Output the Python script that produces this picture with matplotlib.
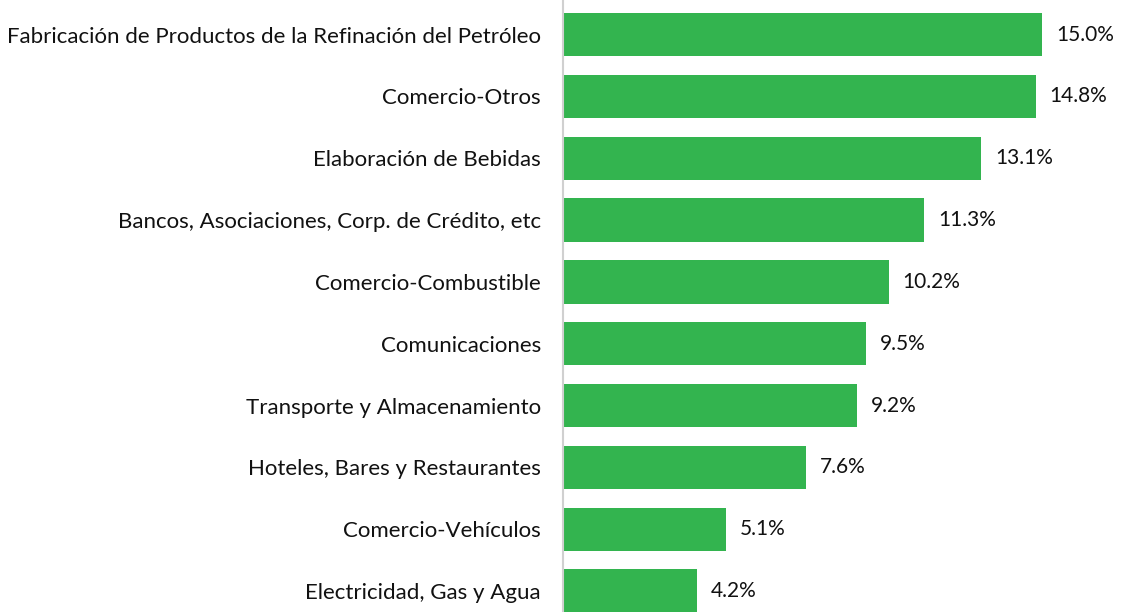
import matplotlib.pyplot as plt

categories = [
    "Fabricación de Productos de la Refinación del Petróleo",
    "Comercio-Otros",
    "Elaboración de Bebidas",
    "Bancos, Asociaciones, Corp. de Crédito, etc",
    "Comercio-Combustible",
    "Comunicaciones",
    "Transporte y Almacenamiento",
    "Hoteles, Bares y Restaurantes",
    "Comercio-Vehículos",
    "Electricidad, Gas y Agua",
]
values = [15.0, 14.8, 13.1, 11.3, 10.2, 9.5, 9.2, 7.6, 5.1, 4.2]

plt.rcParams['font.family'] = ['Lato', 'DejaVu Sans']

fig = plt.figure(figsize=(11.22, 6.12), dpi=100)
ax = fig.add_axes([563 / 1122, 0, 1 - 563 / 1122, 1])

pos = list(range(len(categories)))
ax.barh(pos, values, height=0.70, color="#33B44F")

# value labels to the right of each bar
for p, v in zip(pos, values):
    ax.annotate(f"{v:.1f}%", (v, p), xytext=(10, 0), textcoords="offset points",
                va="center", ha="left", fontsize=15, color="#111111")

ax.set_yticks(pos)
ax.set_yticklabels(categories, fontsize=16, color="#111111")
ax.tick_params(axis="y", length=0, pad=16)
ax.set_xticks([])
ax.set_xlim(0, 17.5)
ax.set_ylim(9.34, -0.56)

for s in ["top", "right", "bottom"]:
    ax.spines[s].set_visible(False)
ax.spines["left"].set_color("#d0d0d0")
ax.spines["left"].set_linewidth(1.5)

fig.savefig("out.png", dpi=100)
